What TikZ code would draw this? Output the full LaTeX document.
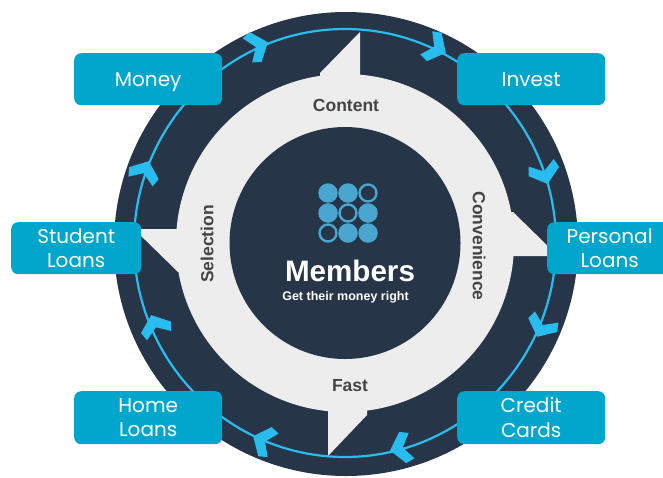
\documentclass[tikz,border=0pt]{standalone}
\usepackage{fontspec}
\setmainfont{Liberation Sans}
\newfontfamily\popp{Poppins}
\definecolor{navy}{HTML}{263548}
\definecolor{pale}{HTML}{EDEDED}
\definecolor{boxblue}{HTML}{00A6CB}
\definecolor{ringblue}{HTML}{29BDEF}
\definecolor{logoblue}{HTML}{4BA6CF}
\definecolor{labelgrey}{HTML}{444444}
\tikzset{
  tagbox/.style={fill=boxblue,rounded corners=7pt,inner sep=0pt,text=white,align=center,
    font=\popp\fontsize{20}{24.5}\selectfont,anchor=north west},
  benefit/.style={text=labelgrey,font=\bfseries\fontsize{17.5}{20}\selectfont,inner sep=0pt},
  dotfull/.style={circle,fill=logoblue,minimum size=19.5pt,inner sep=0pt},
  dotopen/.style={circle,draw=logoblue,line width=2.4pt,minimum size=17pt,inner sep=0pt}
}
\begin{document}
\begin{tikzpicture}[x=1pt,y=-1pt]
\useasboundingbox (0,0) rectangle (663,477);
\coordinate (c) at (345,243);
% disc and pale ring with four arrowheads
\fill[navy] (346,244) circle[radius=232pt];
\fill[pale] (c) circle[radius=169pt];
\fill[pale] (320,73)--(360,32)--(360,80)--(320,80)--cycle;
\fill[pale] (513,212)--(558,256)--(505,256)--(505,212)--cycle;
\fill[pale] (328,456)--(328,405)--(367,405)--(367,415)--cycle;
\fill[pale] (134,229)--(185,229)--(185,272)--(178,272)--cycle;
\fill[navy] (c) circle[x radius=115.5pt,y radius=116pt];
% thin ring and chevrons
\draw[ringblue,line width=2.2pt] (c) circle[x radius=211pt,y radius=214pt];
\foreach \tx/\ty in {444/52,547/182,538/335,392/450,255/437,152/317,148/163,266/43}{
  \pgfmathsetmacro{\a}{atan2(243-\ty,\tx-345)}
  \fill[ringblue,shift={(\tx,\ty)},rotate=\a-90] (2,0)--(-11,-16)--(-20,-13)--(-11,0)--(-20,13)--(-11,16)--cycle;
}
% boxes
\node[tagbox,minimum width=148pt,minimum height=52pt] (money) at (74,53) {\raisebox{0pt}[\height][0pt]{Money}};
\node[tagbox,minimum width=148pt,minimum height=52pt] (invest) at (457,53) {Invest};
\node[tagbox,minimum width=125pt,minimum height=52pt] (personal) at (547,222) {Personal\\Loans};
\node[tagbox,minimum width=130pt,minimum height=52pt] (student) at (11,222) {Student\\Loans};
\node[tagbox,minimum width=148pt,minimum height=53pt] (home) at (74,391) {Home\\Loans};
\node[tagbox,minimum width=148pt,minimum height=53pt] (credit) at (457,391) {Credit\\Cards};
% benefit labels
\node[benefit] (content) at (346,105) {Content};
\node[benefit,rotate=-90] (convenience) at (479,246) {Convenience};
\node[benefit] (fast) at (350,386) {Fast};
\node[benefit,rotate=90] (selection) at (207,244) {Selection};
% logo
\node[dotfull] (d1) at (328,193) {};
\node[dotfull] (d2) at (348,193) {};
\node[dotopen] (d3) at (368,193) {};
\node[dotfull] (d4) at (328,213) {};
\node[dotopen] (d5) at (348,213) {};
\node[dotfull] (d6) at (368,213) {};
\node[dotopen] (d7) at (328,233) {};
\node[dotfull] (d8) at (348,233) {};
\node[dotfull] (d9) at (368,233) {};
% title
\node[text=white,font=\bfseries\fontsize{29.6}{32}\selectfont,inner sep=0pt] (members) at (350,271) {Members};
\node[text=white,font=\bfseries\fontsize{12.5}{14}\selectfont,inner sep=0pt] (tagline) at (345.5,297) {Get their money right};
\end{tikzpicture}
\end{document}
